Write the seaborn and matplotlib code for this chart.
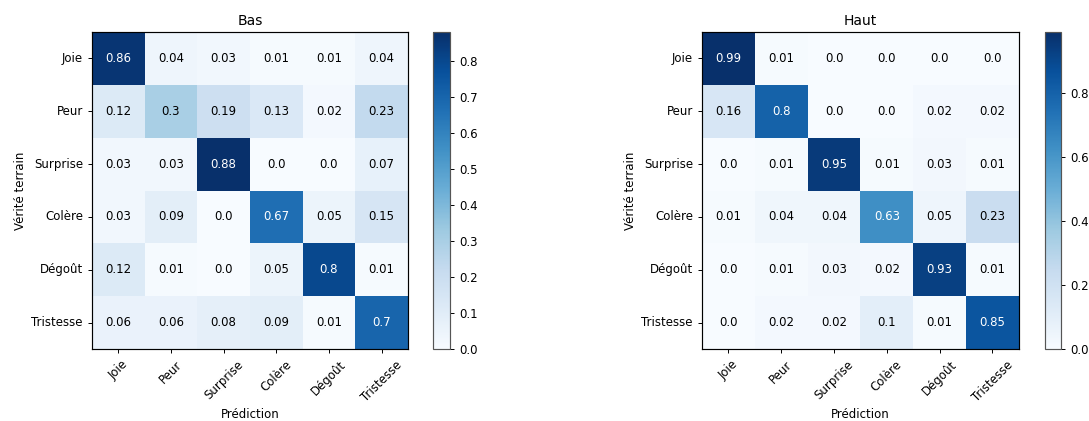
import matplotlib
matplotlib.use("Agg")
import matplotlib.pyplot as plt
import numpy as np
import seaborn as sns

classes = ["Joie", "Peur", "Surprise", "Colère", "Dégoût", "Tristesse"]

bas_values = [
    [0.86, 0.04, 0.03, 0.01, 0.01, 0.04],
    [0.12, 0.3, 0.19, 0.13, 0.02, 0.23],
    [0.03, 0.03, 0.88, 0.0, 0.0, 0.07],
    [0.03, 0.09, 0.0, 0.67, 0.05, 0.15],
    [0.12, 0.01, 0.0, 0.05, 0.8, 0.01],
    [0.06, 0.06, 0.08, 0.09, 0.01, 0.7],
]

haut_values = [
    [0.99, 0.01, 0.0, 0.0, 0.0, 0.0],
    [0.16, 0.8, 0.0, 0.0, 0.02, 0.02],
    [0.0, 0.01, 0.95, 0.01, 0.03, 0.01],
    [0.01, 0.04, 0.04, 0.63, 0.05, 0.23],
    [0.0, 0.01, 0.03, 0.02, 0.93, 0.01],
    [0.0, 0.02, 0.02, 0.1, 0.01, 0.85],
]

bas_ticks = [0.0, 0.1, 0.2, 0.3, 0.4, 0.5, 0.6, 0.7, 0.8]
haut_ticks = [0.0, 0.2, 0.4, 0.6, 0.8]

FS = 8.5

plt.rcParams["font.family"] = ["DejaVu Sans"]
plt.rcParams["font.size"] = FS

fig = plt.figure(figsize=(10.89, 4.21), dpi=100)


def draw_matrix(ax, cax, values, title, cticks):
    cm = np.array(values)
    labels = np.array([[str(v) for v in row] for row in values])
    sns.heatmap(cm, ax=ax, cbar_ax=cax, cmap="Blues", vmin=0.0, vmax=cm.max(),
                annot=labels, fmt="", annot_kws={"fontsize": FS},
                xticklabels=classes, yticklabels=classes, square=False)
    # white text on dark cells, like the usual confusion matrix recipe
    thresh = cm.max() / 2.0
    for t, v in zip(ax.texts, cm.flatten()):
        t.set_color("white" if v > thresh else "black")
    for s in ax.spines.values():
        s.set_visible(True)
        s.set_linewidth(0.85)
        s.set_color("black")
    ax.tick_params(axis="both", length=3, width=0.7, direction="out", labelsize=FS)
    ax.set_xticklabels(classes, rotation=45, ha="center")
    ax.set_yticklabels(classes, rotation=0)
    ax.set_title(title, fontsize=10, pad=5)
    ax.set_xlabel("Prédiction", fontsize=FS, labelpad=3)
    ax.set_ylabel("Vérité terrain", fontsize=FS, labelpad=3)
    cb = ax.collections[0].colorbar
    cb.outline.set_visible(True)
    cb.outline.set_linewidth(0.85)
    cb.outline.set_edgecolor("#555555")
    cb.set_ticks(cticks)
    cb.set_ticklabels([str(t) for t in cticks])
    cax.tick_params(length=3, width=0.7, labelsize=FS)


ax1 = fig.add_axes([0.0845, 0.171, 0.290, 0.753])
cax1 = fig.add_axes([0.3976, 0.171, 0.0156, 0.753])
ax2 = fig.add_axes([0.6446, 0.171, 0.291, 0.753])
cax2 = fig.add_axes([0.9596, 0.171, 0.0147, 0.753])

draw_matrix(ax1, cax1, bas_values, "Bas", bas_ticks)
draw_matrix(ax2, cax2, haut_values, "Haut", haut_ticks)

plt.savefig("out.png", dpi=100)
